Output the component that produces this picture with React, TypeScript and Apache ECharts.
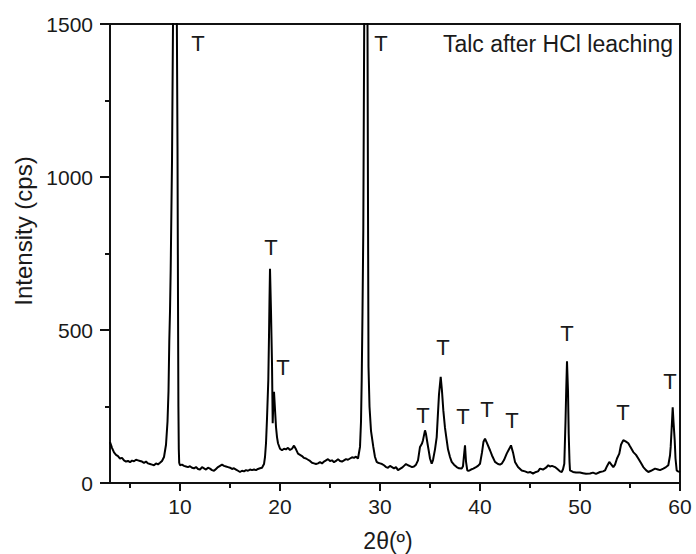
import React, { useEffect, useRef } from "react";
import * as echarts from "echarts";

const twoTheta = [
  3.0, 3.2, 3.4, 3.6, 3.8, 4.0, 4.2, 4.4, 4.6, 4.8, 5.0, 5.2, 5.4, 5.6, 5.8, 6.0, 6.2, 6.4, 6.6, 6.8,
  7.0, 7.2, 7.4, 7.6, 7.8, 8.0, 8.2, 8.4, 8.6, 8.75, 8.85, 8.93, 9.0, 9.07, 9.2, 9.3, 9.4, 9.5, 9.6, 9.67,
  9.75, 9.8, 9.84, 9.88, 9.92, 10.0, 10.2, 10.4, 10.6, 10.8, 11.0, 11.2, 11.4, 11.6, 11.8, 12.0, 12.2, 12.4, 12.6, 12.8,
  13.0, 13.2, 13.4, 13.6, 13.8, 14.0, 14.2, 14.4, 14.6, 14.8, 15.0, 15.2, 15.4, 15.6, 15.8, 16.0, 16.2, 16.4, 16.6, 16.8,
  17.0, 17.2, 17.4, 17.6, 17.8, 18.0, 18.2, 18.4, 18.5, 18.6, 18.7, 18.83, 18.9, 18.95, 19.0, 19.1, 19.2, 19.27, 19.33, 19.4,
  19.5, 19.6, 19.7, 19.8, 20.0, 20.2, 20.4, 20.6, 20.8, 21.0, 21.2, 21.4, 21.6, 21.8, 22.0, 22.2, 22.4, 22.6, 22.8, 23.0,
  23.2, 23.4, 23.6, 23.8, 24.0, 24.2, 24.4, 24.6, 24.8, 25.0, 25.2, 25.4, 25.6, 25.8, 26.0, 26.2, 26.4, 26.6, 26.8, 27.0,
  27.2, 27.4, 27.6, 27.8, 28.0, 28.1, 28.17, 28.25, 28.33, 28.42, 28.5, 28.6, 28.68, 28.75, 28.8, 28.85, 28.95, 29.1, 29.33, 29.5,
  29.67, 29.8, 30.0, 30.2, 30.4, 30.6, 30.8, 31.0, 31.2, 31.4, 31.6, 31.8, 32.0, 32.2, 32.4, 32.6, 32.8, 33.0, 33.2, 33.4,
  33.6, 33.8, 34.0, 34.2, 34.3, 34.5, 34.6, 34.75, 34.9, 35.0, 35.17, 35.3, 35.5, 35.67, 35.8, 35.9, 36.07, 36.2, 36.33, 36.5,
  36.67, 36.8, 37.0, 37.17, 37.4, 37.67, 37.9, 38.17, 38.3, 38.4, 38.5, 38.6, 38.73, 38.9, 39.1, 39.33, 39.6, 39.8, 40.0, 40.2,
  40.35, 40.5, 40.7, 41.0, 41.2, 41.5, 41.8, 42.0, 42.17, 42.4, 42.67, 42.9, 43.1, 43.3, 43.5, 43.8, 44.17, 44.5, 44.8, 45.0,
  45.3, 45.6, 45.8, 46.0, 46.3, 46.6, 46.83, 47.0, 47.2, 47.5, 47.8, 48.0, 48.17, 48.3, 48.43, 48.55, 48.62, 48.7, 48.8, 48.87,
  48.95, 49.0, 49.3, 49.6, 50.0, 50.3, 50.6, 51.0, 51.3, 51.6, 52.0, 52.3, 52.5, 52.7, 52.93, 53.1, 53.33, 53.5, 53.7, 53.93,
  54.1, 54.33, 54.6, 54.83, 55.0, 55.33, 55.6, 55.83, 56.1, 56.33, 56.6, 56.83, 57.1, 57.5, 57.8, 58.0, 58.33, 58.6, 58.83, 59.0,
  59.07, 59.2, 59.27, 59.35, 59.47, 59.55, 59.67, 59.8, 60.0,
];
const intensity = [
  134, 115, 100, 92, 88, 80, 82, 74, 70, 72, 68, 73, 71, 76, 74, 72, 70, 66, 70, 64,
  62, 60, 58, 64, 61, 66, 72, 85, 125, 200, 300, 466, 560, 700, 1050, 1500, 1850, 2100, 1900, 1600,
  1100, 600, 250, 110, 66, 58, 60, 56, 54, 52, 55, 50, 48, 52, 46, 44, 52, 48, 44, 50,
  47, 42, 40, 46, 52, 56, 60, 56, 54, 52, 50, 46, 48, 44, 40, 36, 40, 38, 42, 40,
  44, 42, 44, 42, 46, 48, 50, 62, 85, 130, 210, 336, 480, 600, 700, 560, 390, 195, 260, 298,
  240, 183, 150, 130, 112, 107, 112, 110, 115, 108, 112, 122, 110, 96, 92, 88, 82, 80, 76, 72,
  66, 64, 62, 64, 68, 64, 70, 74, 78, 72, 74, 68, 72, 78, 72, 70, 74, 78, 76, 80,
  84, 82, 86, 80, 118, 200, 336, 560, 826, 1500, 2000, 2200, 1900, 1500, 900, 380, 250, 170, 118, 85,
  69, 66, 64, 62, 58, 52, 50, 56, 52, 48, 52, 42, 46, 50, 56, 62, 58, 55, 52, 54,
  60, 74, 118, 129, 140, 172, 160, 129, 100, 80, 63, 75, 110, 150, 230, 290, 347, 300, 238, 180,
  140, 110, 85, 69, 60, 52, 48, 47, 55, 90, 123, 70, 41, 40, 44, 47, 52, 56, 63, 100,
  135, 145, 130, 107, 90, 69, 62, 60, 63, 75, 96, 110, 123, 100, 69, 52, 41, 38, 34, 36,
  31, 36, 38, 47, 44, 50, 58, 54, 56, 52, 44, 38, 36, 45, 63, 200, 300, 398, 300, 161,
  70, 41, 36, 34, 34, 32, 30, 31, 34, 30, 36, 38, 41, 55, 69, 62, 52, 60, 80, 96,
  125, 140, 135, 130, 120, 101, 92, 80, 65, 52, 42, 36, 40, 47, 44, 42, 47, 52, 58, 90,
  118, 200, 247, 200, 140, 80, 41, 38, 36,
];

// "T" (talc) reflection markers: position in 2θ and height in cps where each label sits
const talcTheta = [11.8, 19.1, 20.3, 30.1, 34.3, 36.3, 38.3, 40.7, 43.2, 48.7, 54.3, 59.0];
const talcLabelY = [1437, 771, 378, 1437, 221, 443, 218, 240, 205, 490, 229, 332];

const xMajorTicks = [10, 20, 30, 40, 50, 60];
const xMinorTicks = [5, 15, 25, 35, 45, 55];

const FONT = "'Liberation Sans', Arial, Helvetica, sans-serif";
const INK = "#1a1a1a";
const FRAME = "#111";

const W = 696;
const H = 554;
const GRID = { left: 110, top: 24, right: 16, bottom: 71 };

export default function App() {
  const ref = useRef<HTMLDivElement>(null);

  useEffect(() => {
    if (!ref.current) return;
    const chart = echarts.init(ref.current, undefined, { renderer: "svg" });
    const lineData = twoTheta.map((t, i) => [t, intensity[i]]);
    const talcData = talcTheta.map((t, i) => [t, talcLabelY[i]]);
    const axisLineStyle = { color: FRAME, width: 2 };

    chart.setOption({
      animation: false,
      grid: { ...GRID, show: true, borderColor: FRAME, borderWidth: 2 },
      xAxis: [
        {
          type: "value",
          min: 3,
          max: 60,
          position: "bottom",
          axisLine: { show: true, onZero: false, lineStyle: axisLineStyle },
          axisTick: { show: true, customValues: xMajorTicks, length: 8, lineStyle: axisLineStyle },
          axisLabel: {
            show: true,
            customValues: xMajorTicks,
            margin: 13,
            fontSize: 21,
            fontFamily: FONT,
            color: INK,
          },
          splitLine: { show: false },
        },
        {
          type: "value",
          min: 3,
          max: 60,
          position: "bottom",
          axisLine: { show: false, onZero: false },
          axisTick: { show: true, customValues: xMinorTicks, length: 5, lineStyle: axisLineStyle },
          axisLabel: { show: false },
          splitLine: { show: false },
        },
        {
          type: "value",
          min: 3,
          max: 60,
          position: "top",
          axisLine: { show: true, onZero: false, lineStyle: axisLineStyle },
          axisTick: { show: false },
          axisLabel: { show: false },
          splitLine: { show: false },
        },
      ],
      yAxis: [
        {
          type: "value",
          min: 0,
          max: 1500,
          interval: 500,
          position: "left",
          axisLine: { show: true, onZero: false, lineStyle: axisLineStyle },
          axisTick: { show: true, length: 10, lineStyle: axisLineStyle },
          minorTick: { show: true, splitNumber: 2, length: 5, lineStyle: axisLineStyle },
          axisLabel: {
            margin: 17,
            fontSize: 21,
            fontFamily: FONT,
            color: INK,
            formatter: (v: number) => String(v),
          },
          splitLine: { show: false },
          minorSplitLine: { show: false },
        },
        {
          type: "value",
          min: 0,
          max: 1500,
          position: "right",
          axisLine: { show: true, onZero: false, lineStyle: axisLineStyle },
          axisTick: { show: false },
          axisLabel: { show: false },
          splitLine: { show: false },
        },
      ],
      graphic: [
        {
          type: "text",
          x: 23,
          y: 231,
          rotation: Math.PI / 2,
          style: {
            text: "Intensity (cps)",
            font: `24px ${FONT}`,
            fill: INK,
            align: "center",
            verticalAlign: "middle",
          },
        },
        {
          type: "text",
          x: 388,
          y: 541,
          style: {
            text: "2θ(º)",
            font: `23px ${FONT}`,
            fill: INK,
            align: "center",
            verticalAlign: "middle",
          },
        },
        {
          type: "text",
          x: 673,
          y: 44,
          style: {
            text: "Talc after HCl leaching",
            font: `23px ${FONT}`,
            fill: INK,
            align: "right",
            verticalAlign: "middle",
          },
        },
      ],
      series: [
        {
          type: "line",
          xAxisIndex: 0,
          yAxisIndex: 0,
          data: lineData,
          showSymbol: false,
          symbol: "none",
          clip: true,
          lineStyle: { color: "#000", width: 2 },
        },
        {
          type: "scatter",
          xAxisIndex: 0,
          yAxisIndex: 0,
          data: talcData,
          symbolSize: 1,
          itemStyle: { color: "rgba(0,0,0,0)", opacity: 1 },
          label: {
            show: true,
            formatter: "T",
            position: "inside",
            fontSize: 22,
            fontFamily: FONT,
            color: INK,
            opacity: 1,
            textBorderWidth: 0,
            textBorderColor: "transparent",
          },
        },
      ],
    });
    return () => chart.dispose();
  }, []);

  return (
    <div
      ref={ref}
      style={{ position: "absolute", left: 0, top: 0, width: W, height: H, background: "#fff" }}
    />
  );
}
